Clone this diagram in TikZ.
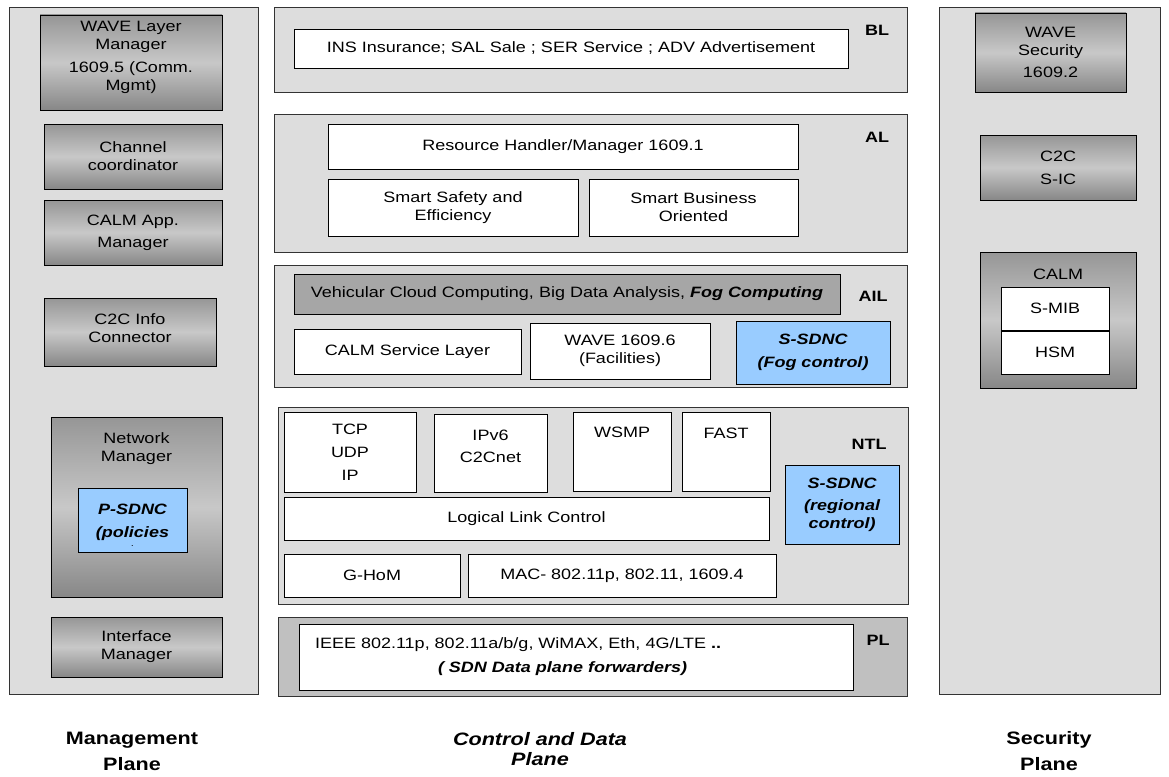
\documentclass[tikz,border=0pt]{standalone}
\usepackage{fontspec}
\setmainfont[FakeStretch=1.2]{Liberation Sans}
\usepackage{tikz}
\definecolor{planegray}{RGB}{221,221,221}
\definecolor{physgray}{RGB}{192,192,192}
\definecolor{cloudgray}{RGB}{166,166,166}
\definecolor{sdncblue}{RGB}{153,204,255}
\definecolor{shadetop}{RGB}{150,150,150}
\definecolor{shademid}{RGB}{200,200,200}
\definecolor{shadebot}{RGB}{135,135,135}

\begin{document}
\begin{tikzpicture}[x=1pt, y=-1pt]
    % Styles
    \tikzstyle{every node} = [font=\fontsize{15}{18}\selectfont, inner sep=0pt, outer sep=0pt, align=center]
    \tikzstyle{plane} = [rectangle, draw=black!80, line width=0.8pt, fill=planegray]
    \tikzstyle{mgbox} = [rectangle, draw, line width=0.8pt, top color=shadetop, bottom color=shadebot, middle color=shademid]
    \tikzstyle{wbox} = [rectangle, draw, line width=0.8pt, fill=white]
    \tikzstyle{sdnc} = [rectangle, draw, line width=0.8pt, fill=sdncblue, font=\fontsize{15}{18}\selectfont\bfseries\itshape]
    \tikzstyle{layer} = [font=\fontsize{15}{18}\selectfont\bfseries]
    \tikzstyle{planename} = [font=\fontsize{18}{26}\selectfont\bfseries]

    \useasboundingbox (0,0) rectangle (1169,776);

    % Management plane
    \node [plane, minimum width=249, minimum height=687] (mgmt) at (133.5,350.5) {};
    \node [mgbox, minimum width=182, minimum height=95] (wlm) at (131,62.5) {};
    \node (wlmtxt) at (131,57.5) {WAVE Layer\\Manager\\[5pt]1609.5 (Comm.\\Mgmt)};
    \node [mgbox, minimum width=178, minimum height=65] (chc) at (133,156.5) {Channel\\coordinator};
    \node [mgbox, minimum width=178, minimum height=65] (cam) at (133,232.5) {CALM App.\\[4pt]Manager};
    \node [mgbox, minimum width=172, minimum height=68] (c2c) at (130,332) {};
    \node (c2ctxt) at (130,328.5) {C2C Info\\Connector};
    \node [mgbox, minimum width=171, minimum height=180] (nwm) at (136.5,507) {};
    \node (nwmtxt) at (136.5,449) {Network\\Manager};
    \node [sdnc, minimum width=109, minimum height=64] (psdnc) at (132.5,520) {};
    \node [font=\fontsize{15}{18}\selectfont\bfseries\itshape] (psdnctxt) at (132.5,525.5) {P-SDNC\\[5pt](policies\\[-9pt]{\fontsize{6}{6}\selectfont .}};
    \node [mgbox, minimum width=171, minimum height=60] (ifm) at (136.5,647) {Interface\\Manager};

    % Control and data plane
    \node [plane, minimum width=633, minimum height=85] (blp) at (590.5,49.5) {};
    \node [wbox, minimum width=554, minimum height=39] (ins) at (571,48.5) {INS Insurance; SAL Sale ; SER Service ; ADV Advertisement};
    \node [layer] (bllab) at (877,30) {BL};

    \node [plane, minimum width=633, minimum height=138] (alp) at (590.5,183) {};
    \node [wbox, minimum width=470, minimum height=45] (res) at (563,146.5) {Resource Handler/Manager 1609.1};
    \node [wbox, minimum width=250, minimum height=57] (ssafe) at (453,207.5) {Smart Safety and\\Efficiency};
    \node [wbox, minimum width=209, minimum height=57] (sbus) at (693.5,207.5) {Smart Business\\Oriented};
    \node [layer] (allab) at (877,137) {AL};

    \node [plane, minimum width=633, minimum height=122] (ailp) at (590.5,326) {};
    \node [rectangle, draw, line width=0.8pt, fill=cloudgray, minimum width=546, minimum height=40] (vcc) at (567,294) {Vehicular Cloud Computing, Big Data Analysis, \textbf{\textit{Fog Computing}}};
    \node [layer] (aillab) at (873,296) {AIL};
    \node [wbox, minimum width=227, minimum height=45] (csl) at (407.5,351.5) {CALM Service Layer};
    \node [wbox, minimum width=180, minimum height=56] (w16) at (620,351) {WAVE 1609.6\\(Facilities)};
    \node [sdnc, minimum width=154, minimum height=63] (sfog) at (813,352.5) {S-SDNC\\[5pt](Fog control)};

    \node [plane, minimum width=630, minimum height=197] (ntlp) at (593,505.5) {};
    \node [wbox, minimum width=132, minimum height=80] (tcp) at (350,452) {TCP\\[5pt]UDP\\[5pt]IP};
    \node [wbox, minimum width=113, minimum height=78] (ipv6) at (490.5,453) {};
    \node (ipv6txt) at (490.5,446) {IPv6\\[4pt]C2Cnet};
    \node [wbox, minimum width=98, minimum height=79] (wsmp) at (622,451.5) {};
    \node (wsmptxt) at (622,432) {WSMP};
    \node [wbox, minimum width=88, minimum height=79] (fast) at (726,451.5) {};
    \node (fasttxt) at (726,433) {FAST};
    \node [layer] (ntllab) at (869,444) {NTL};
    \node [sdnc, minimum width=114, minimum height=79] (ssreg) at (842,504.5) {S-SDNC\\[4pt](regional\\control)};
    \node [wbox, minimum width=485, minimum height=43] (llc) at (526.5,518.5) {Logical Link Control};
    \node [wbox, minimum width=176, minimum height=43] (ghom) at (372,575.5) {G-HoM};
    \node [wbox, minimum width=308, minimum height=43] (mac) at (622,575.5) {MAC- 802.11p, 802.11, 1609.4};

    \node [plane, fill=physgray, minimum width=629, minimum height=79] (plp) at (592.5,656.5) {};
    \node [wbox, minimum width=554, minimum height=66, text width=522, align=left] (plw) at (576,657) {IEEE 802.11p, 802.11a/b/g, WiMAX, Eth, 4G/LTE \textbf{..}\\[6pt]\hspace*{123pt}\textbf{\textit{( SDN Data plane forwarders)}}};
    \node [layer] (pllab) at (878,640) {PL};

    % Security plane
    \node [plane, minimum width=221, minimum height=687] (secp) at (1049.5,350.5) {};
    \node [mgbox, minimum width=151, minimum height=79] (wsec) at (1050.5,52.5) {WAVE\\Security\\[4pt]1609.2};
    \node [mgbox, minimum width=156, minimum height=65] (c2cs) at (1058,167.5) {C2C\\[5pt]S-IC};
    \node [mgbox, minimum width=156, minimum height=136] (calm) at (1058,320) {};
    \node (calmtxt) at (1058,274) {CALM};
    \node [wbox, minimum width=108, minimum height=43] (smib) at (1055,308.5) {S-MIB};
    \node [wbox, minimum width=108, minimum height=43] (hsm) at (1055,352.5) {HSM};

    % Plane names
    \node [planename] (mgname) at (132,751) {Management\\Plane};
    \node [planename, font=\fontsize{18}{20}\selectfont\bfseries\itshape] (cdname) at (540,749) {Control and Data\\Plane};
    \node [planename] (secname) at (1049,751) {Security\\Plane};
\end{tikzpicture}
\end{document}
